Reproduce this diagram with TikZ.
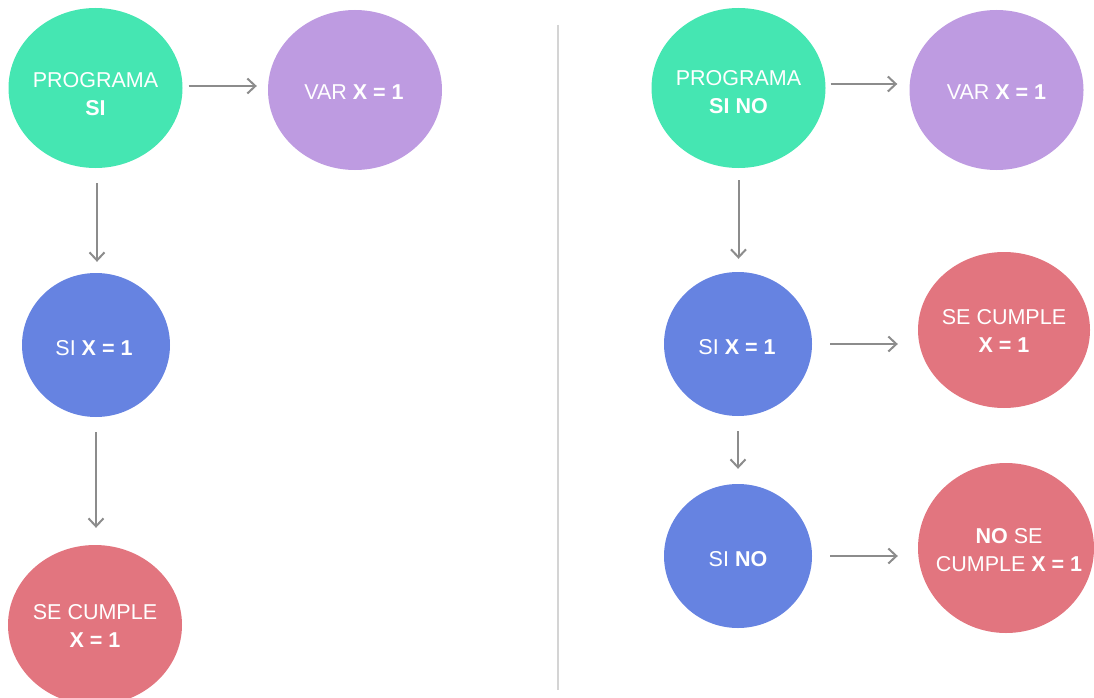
\documentclass[tikz,border=0pt]{standalone}
\usepackage{fontspec}
\setmainfont{Liberation Sans}
\usetikzlibrary{shapes.geometric,arrows.meta}
\definecolor{bubgreen}{HTML}{45E6B2}
\definecolor{bubpurple}{HTML}{BE9BE1}
\definecolor{bubblue}{HTML}{6683E1}
\definecolor{bubred}{HTML}{E2757F}
\definecolor{arrgray}{HTML}{8C8C8C}
\definecolor{divgray}{HTML}{D4D4D4}

\begin{document}
\begin{tikzpicture}[x=1pt,y=-1pt,
  bubble/.style={ellipse, inner sep=0pt, draw=none},
  wide/.style={minimum width=174pt, minimum height=160pt},
  narrow/.style={minimum width=148pt, minimum height=144pt},
  caption/.style={text=white, align=center, inner sep=0pt,
    font=\fontsize{21.5}{28}\selectfont},
  flow/.style={draw=arrgray, line width=2pt,
    -{Straight Barb[length=8pt,width=15pt]}},
]
\clip (0,0) rectangle (1094,698);

% divider between the two flows
\draw[divgray, line width=2pt] (558,25) -- (558,690);

% ---------- left flow: SI ----------
\node[bubble, wide, fill=bubgreen]  (progL) at (95.5,88) {};
\node[bubble, wide, fill=bubpurple] (varL)  at (355,90) {};
\node[bubble, narrow, fill=bubblue] (siL)   at (96,345) {};
\node[bubble, wide, fill=bubred]    (okL)   at (95,625) {};

\node[caption, yshift=-6pt] (progL-t) at (progL) {PROGRAMA\\\textbf{SI}};
\node[caption, xshift=-1pt, yshift=-2pt] (varL-t) at (varL) {VAR \textbf{X = 1}};
\node[caption, xshift=-2pt, yshift=-3pt] (siL-t) at (siL) {SI \textbf{X = 1}};
\node[caption, yshift=-1pt] (okL-t) at (okL) {SE CUMPLE\\\textbf{X = 1}};

\draw[flow, shorten <=6pt, shorten >=11pt] (progL.east) ++(0,-2) coordinate (aL1) -- (aL1 -| varL.west);
\draw[flow, shorten <=15pt, shorten >=11pt] (progL.south) ++(1.5,0) coordinate (aL2) -- (aL2 |- siL.north);
\draw[flow, shorten <=15pt, shorten >=17pt] (siL.south) -- (siL.south |- okL.north);

% ---------- right flow: SI NO ----------
\node[bubble, wide, fill=bubgreen]  (progR) at (738.5,88) {};
\node[bubble, wide, fill=bubpurple] (varR)  at (996.5,90) {};
\node[bubble, narrow, fill=bubblue] (siR)   at (738,344) {};
\node[bubble, minimum width=172pt, minimum height=156pt, fill=bubred] (okR) at (1004,330) {};
\node[bubble, narrow, fill=bubblue] (noR)   at (738,556) {};
\node[bubble, minimum width=176pt, minimum height=170pt, fill=bubred] (failR) at (1006,548) {};

\node[caption, yshift=-4.5pt] (progR-t) at (progR) {PROGRAMA\\\textbf{SI NO}};
\node[caption, yshift=-2pt] (varR-t) at (varR) {VAR \textbf{X = 1}};
\node[caption, xshift=-1pt, yshift=-3pt] (siR-t) at (siR) {SI \textbf{X = 1}};
\node[caption, yshift=-1pt] (okR-t) at (okR) {SE CUMPLE\\\textbf{X = 1}};
\node[caption, yshift=-3pt] (noR-t) at (noR) {SI \textbf{NO}};
\node[caption, xshift=3pt, yshift=-2pt] (failR-t) at (failR) {\textbf{NO} SE\\CUMPLE \textbf{X = 1}};

\draw[flow, shorten <=5pt, shorten >=12pt] (progR.east) ++(0,-4) coordinate (aR1) -- (aR1 -| varR.west);
\draw[flow, shorten <=12pt, shorten >=13pt] (progR.south) -- (progR.south |- siR.north);
\draw[flow, shorten <=18pt, shorten >=20pt] (siR.east) -- (siR.east -| okR.west);
\draw[flow, shorten <=15pt, shorten >=15pt] (siR.south) -- (siR.south |- noR.north);
\draw[flow, shorten <=18pt, shorten >=20pt] (noR.east) -- (noR.east -| failR.west);
\end{tikzpicture}
\end{document}
